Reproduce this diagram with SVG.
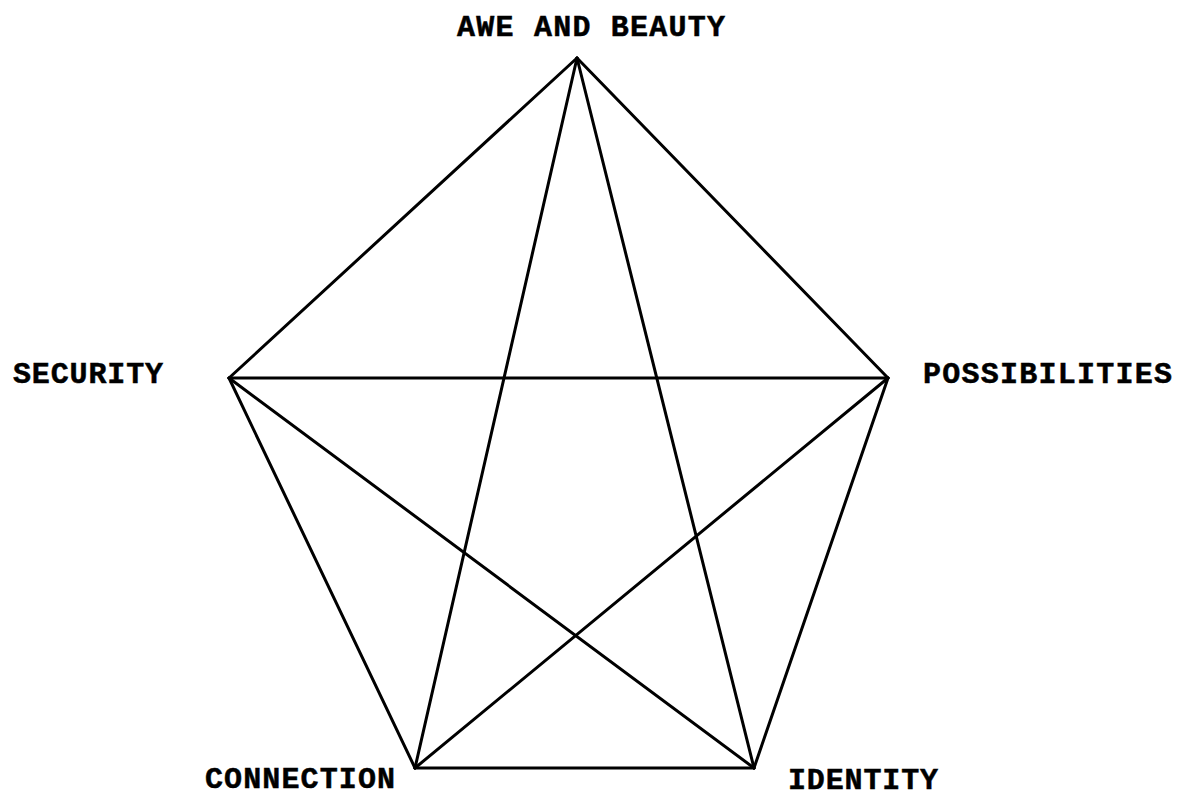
<svg xmlns="http://www.w3.org/2000/svg" width="1179" height="796" viewBox="0 0 1179 796">
<style>
.lbl{font-family:"Liberation Mono","DejaVu Sans Mono",monospace;font-weight:bold;font-size:30px;fill:#000;stroke:#000;stroke-width:0.5}
.edge{stroke:#000;stroke-width:3;stroke-linecap:round;fill:none}
</style>
<rect width="1179" height="796" fill="#fff"/>
<g id="connectors">
<line class="edge" x1="577" y1="58" x2="229" y2="378"/>
<line class="edge" x1="577" y1="58" x2="888" y2="378"/>
<line class="edge" x1="577" y1="58" x2="415" y2="768"/>
<line class="edge" x1="577" y1="58" x2="754" y2="768"/>
<line class="edge" x1="229" y1="378" x2="888" y2="378"/>
<line class="edge" x1="229" y1="378" x2="415" y2="768"/>
<line class="edge" x1="229" y1="378" x2="754" y2="768"/>
<line class="edge" x1="888" y1="378" x2="415" y2="768"/>
<line class="edge" x1="888" y1="378" x2="754" y2="768"/>
<line class="edge" x1="415" y1="768" x2="754" y2="768"/>
</g>
<g id="awe"><text class="lbl" x="457" y="36" textLength="268" lengthAdjust="spacing">AWE AND BEAUTY</text></g>
<g id="security"><text class="lbl" x="13" y="383" textLength="150" lengthAdjust="spacing">SECURITY</text></g>
<g id="possibilities"><text class="lbl" x="923" y="383" textLength="249" lengthAdjust="spacing">POSSIBILITIES</text></g>
<g id="connection"><text class="lbl" x="205" y="788" textLength="190" lengthAdjust="spacing">CONNECTION</text></g>
<g id="identity"><text class="lbl" x="788" y="789" textLength="150" lengthAdjust="spacing">IDENTITY</text></g>
</svg>
